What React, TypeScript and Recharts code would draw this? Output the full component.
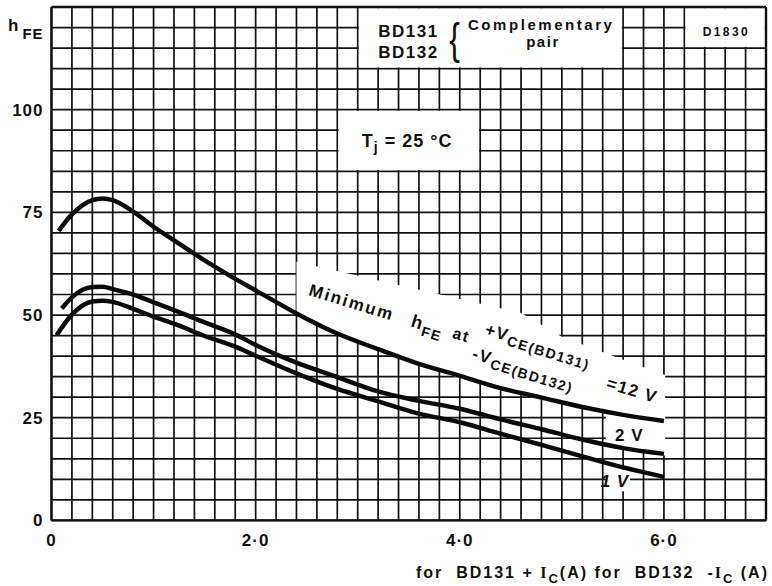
import React from 'react';
import { LineChart, Line, XAxis, YAxis, ReferenceLine, ReferenceArea, ReferenceDot, Label } from 'recharts';

// ---- data ----
const IC_12V = [0.07, 0.2, 0.4, 0.5, 0.6, 0.8, 1.0, 1.2, 1.5, 1.8, 2.0, 2.4, 2.8, 3.2, 3.6, 4.0, 4.4, 4.8, 5.2, 5.6, 6.0];
const HFE_12V = [70.5, 74.5, 78, 78.4, 78, 75.2, 71.5, 68.2, 63.3, 58.8, 56, 50.4, 45.5, 41.7, 38.1, 35.2, 32.2, 29.9, 27.6, 25.7, 24.2];

const IC_2V = [0.1, 0.2, 0.4, 0.5, 0.6, 0.8, 1.0, 1.2, 1.5, 1.8, 2.0, 2.4, 2.8, 3.2, 3.6, 4.0, 4.4, 4.8, 5.2, 5.6, 6.0];
const HFE_2V = [51.6, 54.3, 56.8, 56.9, 56.3, 55.0, 53.1, 51.2, 48.2, 45.3, 42.7, 38.4, 34.9, 31.4, 29.1, 27.2, 24.6, 22.2, 19.7, 17.6, 16.2];

const IC_1V = [0.05, 0.2, 0.4, 0.5, 0.6, 0.8, 1.0, 1.2, 1.5, 1.8, 2.0, 2.4, 2.8, 3.2, 3.6, 4.0, 4.4, 4.8, 5.2, 5.6, 6.0];
const HFE_1V = [45.1, 50.1, 53.3, 53.5, 53.2, 51.5, 49.6, 47.9, 44.9, 42.3, 40.1, 35.8, 32.0, 29.0, 26.0, 23.9, 21.1, 18.4, 15.6, 12.9, 10.6];

const X_TICKS = [0, 2, 4, 6];
const X_TICK_LABELS = ['0', '2·0', '4·0', '6·0'];
const Y_TICKS = [0, 25, 50, 75, 100];

const X_MAX = 7;
const Y_MAX = 125;
const GRID_X = Array.from({ length: 36 }, (_, i) => Math.round(i * 2) / 10);
const GRID_Y = Array.from({ length: 26 }, (_, i) => i * 5);

// white patches behind annotations (data units)
const RECT_PATCHES = [
  { x1: 3.0, x2: 5.6, y1: 110, y2: 125 },
  { x1: 6.2, x2: 7.0, y1: 115, y2: 125 },
  { x1: 2.8, x2: 4.2, y1: 85, y2: 100 },
  { x1: 5.42, x2: 5.68, y1: 6.8, y2: 12.6 },
];
const LABEL_PATCH: [number, number][] = [
  [2.4, 63], [4.6, 50.5], [5.0, 44.7], [5.6, 39.1], [6.012, 35.4], [6.012, 23.8],
  [5.6, 25.2], [5.2, 27.1], [4.8, 29.4], [4.4, 31.7], [4.0, 34.7], [3.6, 37.6], [3.2, 41.2], [2.8, 45.0], [2.4, 49.9],
];
const TWOV_PATCH: [number, number][] = [[5.43, 26.8], [6.012, 24.6], [6.012, 15.8], [5.43, 18.0]];

const data12 = IC_12V.map((x, i) => ({ x, y: HFE_12V[i] }));
const data2 = IC_2V.map((x, i) => ({ x, y: HFE_2V[i] }));
const data1 = IC_1V.map((x, i) => ({ x, y: HFE_1V[i] }));

const FONT = "'Liberation Sans', Arial, Helvetica, sans-serif";
const INK = '#111';

const insetRect = (p: any) => (
  <rect x={p.x + 1.2} y={p.y + 1.2} width={Math.max(0, p.width - 2.4)} height={Math.max(0, p.height - 2.4)} fill="#fff" stroke="none" />
);

const polyShape = (pts: [number, number][]) => {
  const xs = pts.map((p) => p[0]);
  const ys = pts.map((p) => p[1]);
  const x1 = Math.min(...xs), x2 = Math.max(...xs), y1 = Math.min(...ys), y2 = Math.max(...ys);
  const shape = (p: any) => {
    const sx = p.width / (x2 - x1);
    const sy = p.height / (y2 - y1);
    const d = pts.map(([vx, vy]) => `${p.x + (vx - x1) * sx},${p.y + (y2 - vy) * sy}`).join(' ');
    return <polygon points={d} fill="#fff" stroke="none" />;
  };
  return { x1, x2, y1, y2, shape };
};

const labelPoly = polyShape(LABEL_PATCH);
const twoVPoly = polyShape(TWOV_PATCH);

const txt = { fontFamily: FONT, fontWeight: 'bold' as const, fill: INK };

const RotLabel = (p: any) => (
  <g transform={`translate(${p.cx},${p.cy}) rotate(17)`} {...txt} letterSpacing="1.5" style={{ whiteSpace: 'pre' }}>
    <text x={0} y={0} fontSize={17} textLength={88} lengthAdjust="spacing">Minimum</text>
    <text x={107} y={0} fontSize={18}>h<tspan fontSize={14} dy={6}>FE</tspan></text>
    <text x={150} y={-1} fontSize={16}>at</text>
    <text x={180} y={-14} fontSize={17}>+V<tspan fontSize={14} dy={4}>CE(BD131)</tspan></text>
    <text x={175} y={13} fontSize={17}>-V<tspan fontSize={14} dy={4}>CE(BD132)</tspan></text>
    <text x={312} y={2} fontSize={17}>=12 V</text>
  </g>
);

const HfeLabel = (p: any) => {
  const vb = p.viewBox || { x: 0, y: 7 };
  return (
    <text x={vb.x + 8} y={vb.y + 24} {...txt} fontSize={17} letterSpacing="1">
      h<tspan dx={3} dy={8} fontSize={15}>FE</tspan>
    </text>
  );
};

const XTitle = (p: any) => {
  const vb = p.viewBox || { x: 51.5, y: 520, width: 714.5 };
  return (
    <text x={vb.x + vb.width + 3} y={vb.y + 58} textAnchor="end" {...txt} fontSize={16} letterSpacing="2" style={{ whiteSpace: 'pre' }}>
      {'for  BD131 + '}
      <tspan fontFamily="'Liberation Serif', serif">I</tspan>
      <tspan dy={5} fontSize={13}>C</tspan>
      <tspan dy={-5}>{'(A) for  BD132  -'}</tspan>
      <tspan fontFamily="'Liberation Serif', serif">I</tspan>
      <tspan dy={5} fontSize={13}>C</tspan>
      <tspan dy={-5}>{' (A)'}</tspan>
    </text>
  );
};

const textAt = (content: React.ReactNode, extra: any = {}) => (p: any) => (
  <text x={p.cx} y={p.cy} {...txt} style={{ whiteSpace: 'pre' }} {...extra}>{content}</text>
);

export default function App() {
  return (
    <div style={{ position: 'absolute', left: 0, top: 0, width: 772, height: 586, background: '#fff' }}>
      <LineChart width={772} height={586} margin={{ top: 7, right: 6, left: 0, bottom: 35.6 }}>
        <XAxis
          type="number"
          dataKey="x"
          domain={[0, X_MAX]}
          ticks={X_TICKS}
          interval={0}
          allowDataOverflow
          axisLine={false}
          tickLine={false}
          tickSize={0}
          tickMargin={14}
          height={30}
          tickFormatter={(v: number) => X_TICK_LABELS[X_TICKS.indexOf(v)]}
          tick={{ fontFamily: FONT, fontWeight: 'bold', fontSize: 17, fill: INK, letterSpacing: 1 }}
        >
          <Label content={XTitle} />
        </XAxis>
        <YAxis
          type="number"
          domain={[0, Y_MAX]}
          ticks={Y_TICKS}
          interval={0}
          allowDataOverflow
          width={51.5}
          axisLine={false}
          tickLine={false}
          tickSize={0}
          tickMargin={8}
          tick={{ fontFamily: FONT, fontWeight: 'bold', fontSize: 17, fill: INK, letterSpacing: 1 }}
        >
          <Label content={HfeLabel} />
        </YAxis>

        {GRID_X.map((v) => (
          <ReferenceLine key={'gx' + v} x={v} stroke={INK} strokeWidth={1.7} zIndex={-50} />
        ))}
        {GRID_Y.map((v) => (
          <ReferenceLine key={'gy' + v} y={v} stroke={INK} strokeWidth={1.7} zIndex={-50} />
        ))}

        {RECT_PATCHES.map((r, i) => (
          <ReferenceArea key={'rp' + i} x1={r.x1} x2={r.x2} y1={r.y1} y2={r.y2} shape={insetRect} zIndex={50} />
        ))}
        <ReferenceArea x1={labelPoly.x1} x2={labelPoly.x2} y1={labelPoly.y1} y2={labelPoly.y2} shape={labelPoly.shape} zIndex={50} />
        <ReferenceArea x1={twoVPoly.x1} x2={twoVPoly.x2} y1={twoVPoly.y1} y2={twoVPoly.y2} shape={twoVPoly.shape} zIndex={50} />

        <ReferenceLine x={0} stroke={INK} strokeWidth={2.4} zIndex={60} />
        <ReferenceLine x={X_MAX} stroke={INK} strokeWidth={2.4} zIndex={60} />
        <ReferenceLine y={0} stroke={INK} strokeWidth={2.4} zIndex={60} />
        <ReferenceLine y={Y_MAX} stroke={INK} strokeWidth={2.4} zIndex={60} />

        <Line data={data12} dataKey="y" type="monotone" stroke="#0a0a0a" strokeWidth={4.5} dot={false} activeDot={false} isAnimationActive={false} zIndex={400} />
        <Line data={data2} dataKey="y" type="monotone" stroke="#0a0a0a" strokeWidth={4.5} dot={false} activeDot={false} isAnimationActive={false} zIndex={400} />
        <Line data={data1} dataKey="y" type="monotone" stroke="#0a0a0a" strokeWidth={4.5} dot={false} activeDot={false} isAnimationActive={false} zIndex={400} />

        <ReferenceDot x={3.2} y={117.6} r={0} ifOverflow="visible" zIndex={600} shape={textAt('BD131', { fontSize: 17, textLength: 59, lengthAdjust: 'spacing' })} />
        <ReferenceDot x={3.2} y={112.6} r={0} ifOverflow="visible" zIndex={600} shape={textAt('BD132', { fontSize: 17, textLength: 59, lengthAdjust: 'spacing' })} />
        <ReferenceDot x={3.95} y={113.66} r={0} ifOverflow="visible" zIndex={600} shape={(p: any) => (
          <text x={p.cx} y={p.cy} transform={`translate(0 ${-p.cy * 0.4}) scale(1 1.4)`} fontFamily={FONT} fontWeight="normal" fontSize={32} fill={INK} textAnchor="middle">{'{'}</text>
        )} />
        <ReferenceDot x={4.08} y={119.35} r={0} ifOverflow="visible" zIndex={600} shape={textAt('Complementary', { fontSize: 15, textLength: 144, lengthAdjust: 'spacing' })} />
        <ReferenceDot x={4.815} y={115.24} r={0} ifOverflow="visible" zIndex={600} shape={textAt('pair', { fontSize: 15, textAnchor: 'middle', letterSpacing: 1.5 })} />
        <ReferenceDot x={6.6} y={118.0} r={0} ifOverflow="visible" zIndex={600} shape={textAt('D1830', { fontSize: 12, textAnchor: 'middle', textLength: 45, lengthAdjust: 'spacing' })} />
        <ReferenceDot x={3.04} y={90.9} r={0} ifOverflow="visible" zIndex={600} shape={(p: any) => (
          <text x={p.cx} y={p.cy} {...txt} fontSize={18} letterSpacing="1" style={{ whiteSpace: 'pre' }}>
            T<tspan dy={5} fontSize={14}>j</tspan><tspan dy={-5}>{' = 25 °C'}</tspan>
          </text>
        )} />
        <ReferenceDot x={2.51} y={54.9} r={0} ifOverflow="visible" zIndex={600} shape={RotLabel} />
        <ReferenceDot x={5.66} y={19.3} r={0} ifOverflow="visible" zIndex={600} shape={textAt('2 V', { fontSize: 17, textAnchor: 'middle', letterSpacing: 1 })} />
        <ReferenceDot x={5.52} y={8.1} r={0} ifOverflow="visible" zIndex={600} shape={textAt('1 V', { fontSize: 17, textAnchor: 'middle', letterSpacing: 1, fontStyle: 'italic' })} />
      </LineChart>
    </div>
  );
}
